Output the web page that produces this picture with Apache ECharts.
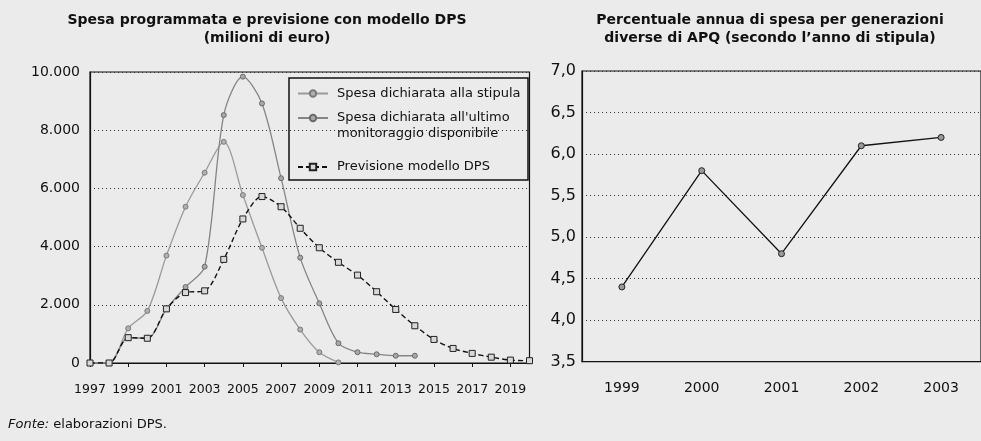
<!DOCTYPE html>
<html>
<head>
<meta charset="utf-8">
<script src="https://cdn.jsdelivr.net/npm/echarts@6/dist/echarts.min.js"></script>
<style>
  html, body { margin: 0; padding: 0; background: #ebebeb; }
  #main { width: 981px; height: 441px; }
</style>
</head>
<body>
<div id="main"></div>
<script>
// anni del grafico di sinistra
var anni = ['1997', '1998', '1999', '2000', '2001', '2002', '2003', '2004', '2005', '2006', '2007', '2008',
    '2009', '2010', '2011', '2012', '2013', '2014', '2015', '2016', '2017', '2018', '2019', '2020'];
// milioni di euro
var spesaStipula = [0, 0, 1190, 1790, 3690, 5370, 6540, 7600, 5770, 3960, 2230, 1150,
    370, 20, null, null, null, null, null, null, null, null, null, null];
var spesaMonitoraggio = [0, 0, 870, 850, 1860, 2610, 3310, 8520, 9840, 8920, 6350, 3620,
    2050, 680, 370, 300, 250, 250, null, null, null, null, null, null];
var previsioneDPS = [0, 0, 870, 850, 1860, 2420, 2480, 3560, 4950, 5720, 5370, 4630,
    3960, 3460, 3020, 2450, 1840, 1280, 810, 500, 330, 200, 100, 80];

// grafico di destra
var anniStipula = ['1999', '2000', '2001', '2002', '2003'];
var percentualeAnnua = [4.4, 5.8, 4.8, 6.1, 6.2];

var nomeStipula = 'Spesa dichiarata alla stipula';
var nomeMonitoraggio = "Spesa dichiarata all'ultimo\nmonitoraggio disponibile";
var nomeDPS = 'Previsione modello DPS';

var font = 'DejaVu Sans';
var griglia = { lineStyle: { color: '#333', type: [1, 3], width: 1.2 } };

// una legenda per voce, cosi' le posizioni seguono l'originale
function legenda(nome, top, formatter) {
    return {
        data: [nome],
        orient: 'vertical',
        left: 297,
        top: top,
        padding: 0,
        itemWidth: 30,
        itemHeight: 8,
        formatter: formatter,
        textStyle: { fontFamily: font, fontSize: 13, color: '#111', lineHeight: 16, padding: [0, 0, 0, 4] }
    };
}

var option = {
    backgroundColor: '#ebebeb',
    animation: false,
    title: [{
        text: 'Spesa programmata e previsione con modello DPS\n(milioni di euro)',
        left: 262,
        top: 6,
        textAlign: 'center',
        textStyle: { fontFamily: font, fontSize: 14, fontWeight: 'bold', color: '#111', lineHeight: 18 }
    }, {
        text: 'Percentuale annua di spesa per generazioni\ndiverse di APQ (secondo l\u2019anno di stipula)',
        left: 765,
        top: 6,
        textAlign: 'center',
        textStyle: { fontFamily: font, fontSize: 14, fontWeight: 'bold', color: '#111', lineHeight: 18 }
    }, {
        text: '{i|Fonte:} elaborazioni DPS.',
        left: 3,
        top: 413,
        textStyle: {
            fontFamily: font, fontSize: 13, fontWeight: 'normal', color: '#111',
            rich: { i: { fontFamily: font, fontSize: 13, fontWeight: 'normal', fontStyle: 'italic', color: '#111' } }
        }
    }],
    legend: [
        legenda(nomeStipula, 85.5),
        legenda(nomeMonitoraggio, 94, function (name) { return '\n' + name; }),
        legenda(nomeDPS, 159)
    ],
    graphic: [{
        type: 'rect',
        shape: { x: 289, y: 78, width: 239, height: 102 },
        style: { fill: 'none', stroke: '#111', lineWidth: 1.5 },
        z: 5
    }],
    grid: [
        { left: 90, top: 72, width: 439.5, height: 291, show: true, borderColor: '#111', borderWidth: 1.2 },
        { left: 582, top: 71, width: 412.5, height: 290.7, show: true, borderColor: '#111', borderWidth: 1.2 }
    ],
    xAxis: [{
        gridIndex: 0,
        type: 'category',
        data: anni,
        boundaryGap: false,
        axisLine: { lineStyle: { color: '#111', width: 1.2 } },
        axisTick: { interval: 1, length: 4, lineStyle: { color: '#111' } },
        axisLabel: { interval: 1, margin: 20, color: '#111', fontFamily: font, fontSize: 12.5 },
        splitLine: { show: false }
    }, {
        gridIndex: 1,
        type: 'category',
        data: anniStipula,
        boundaryGap: true,
        axisLine: { lineStyle: { color: '#111', width: 1.2 } },
        axisTick: { length: 4, lineStyle: { color: '#111' } },
        axisLabel: { margin: 20, color: '#111', fontFamily: font, fontSize: 14 },
        splitLine: { show: false }
    }],
    yAxis: [{
        gridIndex: 0,
        type: 'value',
        min: 0,
        max: 10000,
        interval: 2000,
        axisLine: { show: true, lineStyle: { color: '#111', width: 1.2 } },
        axisTick: { show: false },
        axisLabel: {
            margin: 10, color: '#111', fontFamily: font, fontSize: 14,
            formatter: function (v) { return String(v).replace(/\B(?=(\d{3})+(?!\d))/g, '.'); }
        },
        splitLine: griglia
    }, {
        gridIndex: 1,
        type: 'value',
        min: 3.5,
        max: 7,
        interval: 0.5,
        axisLine: { show: true, lineStyle: { color: '#111', width: 1.2 } },
        axisTick: { show: false },
        axisLabel: {
            margin: 6, color: '#111', fontFamily: font, fontSize: 16,
            formatter: function (v) { return v.toFixed(1).replace('.', ','); }
        },
        splitLine: griglia
    }],
    series: [{
        name: nomeStipula,
        type: 'line',
        xAxisIndex: 0,
        yAxisIndex: 0,
        data: spesaStipula,
        smooth: 0.3,
        showAllSymbol: true,
        symbol: 'circle',
        symbolSize: 5,
        lineStyle: { color: '#9a9a9a', width: 1.3 },
        itemStyle: { color: '#b0b0b0', borderColor: '#7a7a7a', borderWidth: 1 }
    }, {
        name: nomeMonitoraggio,
        type: 'line',
        xAxisIndex: 0,
        yAxisIndex: 0,
        data: spesaMonitoraggio,
        smooth: 0.3,
        showAllSymbol: true,
        symbol: 'circle',
        symbolSize: 5,
        lineStyle: { color: '#858585', width: 1.3 },
        itemStyle: { color: '#a8a8a8', borderColor: '#6a6a6a', borderWidth: 1 }
    }, {
        name: nomeDPS,
        type: 'line',
        xAxisIndex: 0,
        yAxisIndex: 0,
        data: previsioneDPS,
        smooth: 0.3,
        showAllSymbol: true,
        symbol: 'rect',
        symbolSize: 6,
        z: 3,
        lineStyle: { color: '#111', width: 1.4, type: [5, 3] },
        itemStyle: { color: '#d8d8d8', borderColor: '#222', borderWidth: 1 }
    }, {
        name: 'Percentuale annua',
        type: 'line',
        xAxisIndex: 1,
        yAxisIndex: 1,
        data: percentualeAnnua,
        symbol: 'circle',
        symbolSize: 6,
        lineStyle: { color: '#111', width: 1.3 },
        itemStyle: { color: '#9a9a9a', borderColor: '#222', borderWidth: 1 }
    }]
};

var myChart = echarts.init(document.getElementById('main'));
myChart.setOption(option);
</script>
</body>
</html>
